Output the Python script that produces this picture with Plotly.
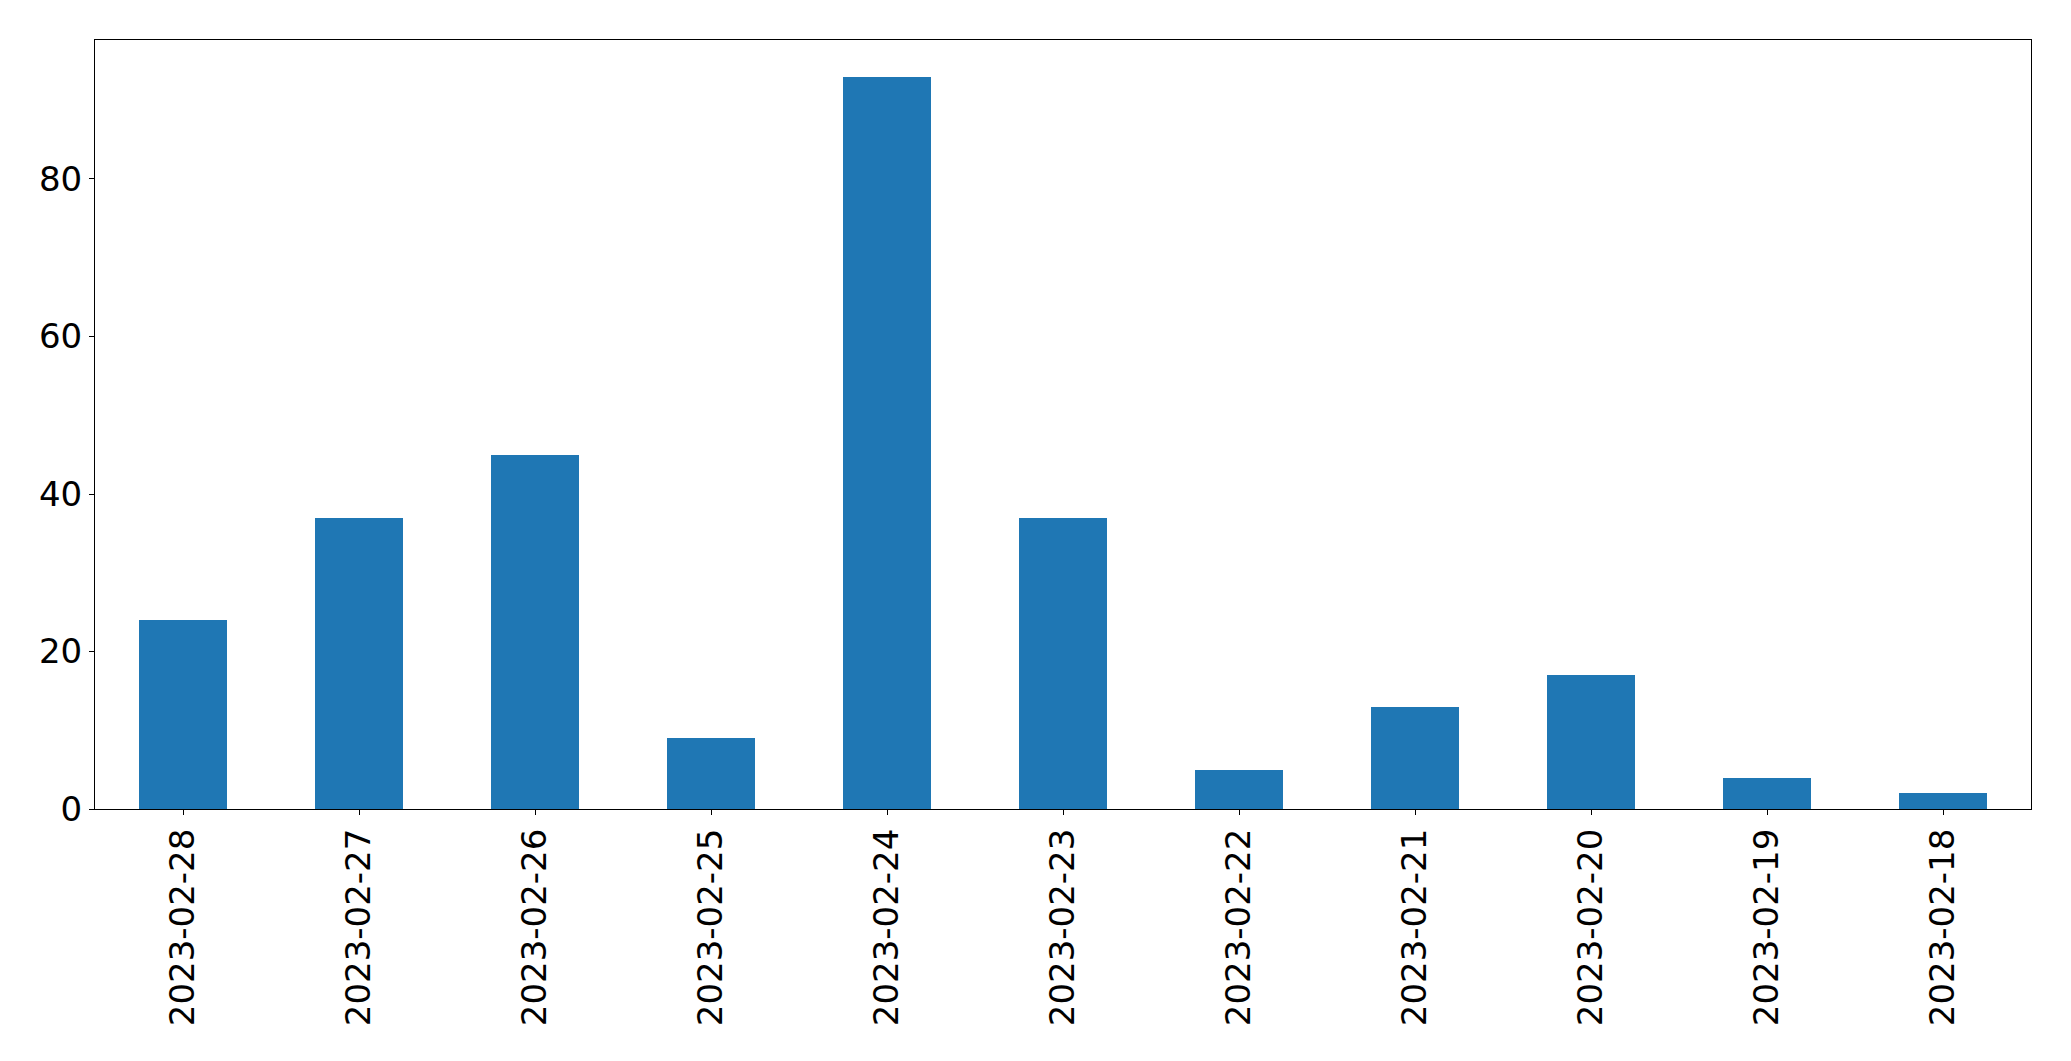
import plotly.graph_objects as go

dates = ["2023-02-28", "2023-02-27", "2023-02-26", "2023-02-25", "2023-02-24",
         "2023-02-23", "2023-02-22", "2023-02-21", "2023-02-20", "2023-02-19",
         "2023-02-18"]
counts = [24, 37, 45, 9, 93, 37, 5, 13, 17, 4, 2]
y_ticks = [0, 20, 40, 60, 80]

fig = go.Figure(go.Bar(x=dates, y=counts, width=0.5, marker=dict(color="#1f77b4", line=dict(width=0))))

fig.update_layout(
    width=2055, height=1045,
    margin=dict(l=86.5, r=32, t=31.5, b=244),
    plot_bgcolor="white", paper_bgcolor="white",
    font=dict(family="DejaVu Sans", size=34, color="black"),
    showlegend=False,
    bargap=0,
)
fig.update_xaxes(
    type="category", range=[-0.5, len(dates) - 0.5],
    showline=True, linecolor="black", linewidth=1.1, mirror=True,
    ticks="outside", ticklen=5, tickwidth=1.1, tickcolor="black",
    tickangle=-90, showgrid=False, zeroline=False,
)
fig.update_yaxes(
    range=[0, max(counts) * 1.05], tickvals=y_ticks,
    showline=True, linecolor="black", linewidth=1.1, mirror=True,
    ticks="outside", ticklen=5, tickwidth=1.1, tickcolor="black",
    showgrid=False, zeroline=False,
)

fig.write_html("out.html")
